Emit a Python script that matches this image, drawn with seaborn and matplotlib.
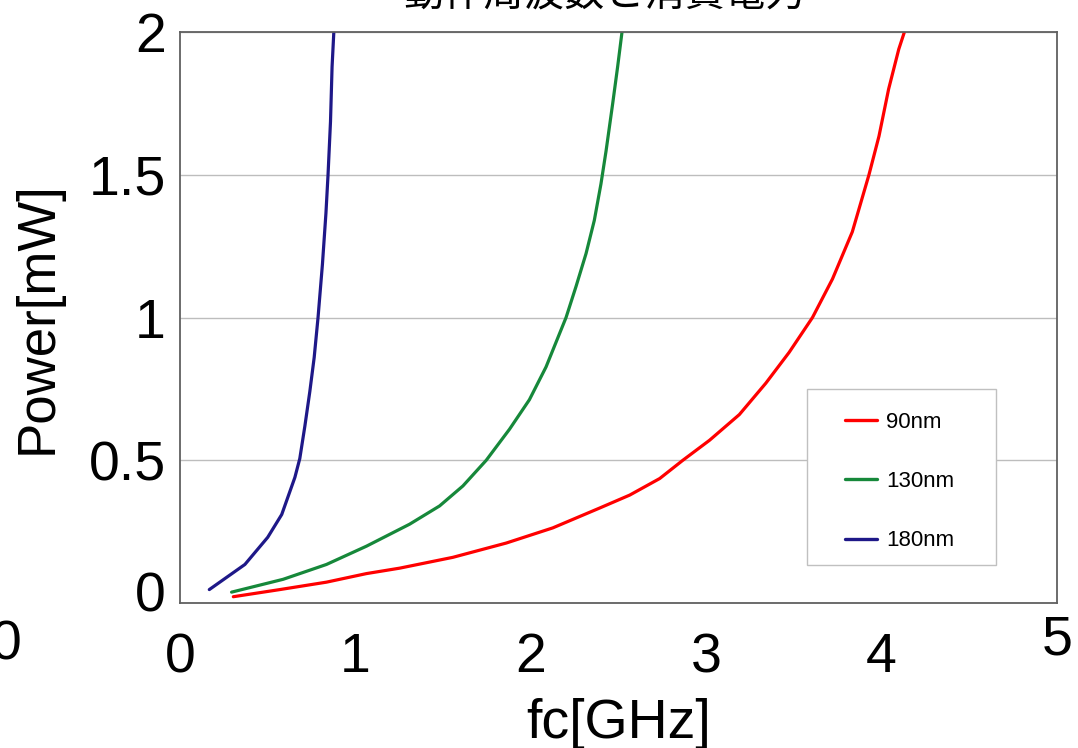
import matplotlib
matplotlib.use("Agg")
import matplotlib.pyplot as plt
import matplotlib.transforms as mtransforms
from matplotlib.patches import Rectangle
import seaborn as sns
import pandas as pd

# ---- data ----
title_text = "動作周波数と消費電力"
series_names = ["90nm", "130nm", "180nm"]
red_x = [0.304, 0.569, 0.835, 1.063, 1.252, 1.556, 1.86, 2.125, 2.394, 2.564, 2.735, 2.867,
         3.019, 3.189, 3.34, 3.473, 3.606, 3.72, 3.833, 3.928, 3.985, 4.04, 4.098, 4.13]
red_y = [0.022, 0.047, 0.073, 0.103, 0.122, 0.16, 0.21, 0.263, 0.333, 0.378, 0.436, 0.5,
         0.57, 0.66, 0.77, 0.878, 1.0, 1.135, 1.30, 1.5, 1.635, 1.80, 1.94, 2.0]
green_x = [0.294, 0.588, 0.835, 1.063, 1.309, 1.48, 1.613, 1.746, 1.879, 1.992, 2.087, 2.201,
           2.258, 2.315, 2.362, 2.40, 2.429, 2.467, 2.495, 2.52]
green_y = [0.038, 0.083, 0.135, 0.199, 0.276, 0.34, 0.41, 0.5, 0.609, 0.712, 0.827, 1.0,
           1.109, 1.224, 1.34, 1.468, 1.583, 1.75, 1.878, 2.0]
blue_x = [0.167, 0.37, 0.50, 0.58, 0.655, 0.683, 0.712, 0.74, 0.765, 0.787, 0.812, 0.832,
          0.844, 0.858, 0.867, 0.877]
blue_y = [0.047, 0.135, 0.23, 0.31, 0.44, 0.506, 0.62, 0.74, 0.86, 1.0, 1.186, 1.365,
          1.5, 1.686, 1.878, 2.0]
x_ticks = [0, 1, 2, 3, 4, 5]
y_ticks = [0, 0.5, 1, 1.5, 2]
y_tick_labels = ["0", "0.5", "1", "1.5", "2"]
x_label = "fc[GHz]"
y_label = "Power[mW]"
colors = ["#ff0000", "#16883a", "#1e1888"]

rows = []
for name, xs, ys in zip(series_names, [red_x, green_x, blue_x], [red_y, green_y, blue_y]):
    for a, b in zip(xs, ys):
        rows.append({"fc": a, "power": b, "tech": name})
df = pd.DataFrame(rows)

sns.set_style("white")
plt.rcParams["font.family"] = ["Liberation Sans", "Noto Sans CJK JP", "DejaVu Sans"]
plt.rcParams["text.color"] = "black"
plt.rcParams["axes.labelcolor"] = "black"
plt.rcParams["xtick.labelcolor"] = "black"
plt.rcParams["ytick.labelcolor"] = "black"

fig = plt.figure(figsize=(10.78, 7.48), dpi=100)
ax = fig.add_axes([180 / 1078, 1 - 603 / 748, 877 / 1078, 571 / 748])

sns.lineplot(data=df, x="fc", y="power", hue="tech", hue_order=series_names,
             palette=colors, sort=False, estimator=None,
             linewidth=2.3, ax=ax, legend=True)

ax.set_xlim(0, 5)
ax.set_ylim(0, 2)
ax.set_xticks(x_ticks)
ax.set_yticks(y_ticks)
ax.set_yticklabels(y_tick_labels)
ax.yaxis.grid(True, color="#bdbdbd", linewidth=1.0)
ax.xaxis.grid(False)
for sp in ax.spines.values():
    sp.set_color("#606060")
    sp.set_linewidth(1.3)
ax.tick_params(axis="x", direction="in", length=10, color="#b0b0b0", labelsize=40, pad=21,
               labelcolor="black")
ax.tick_params(axis="y", direction="in", length=12, color="#909090", labelsize=40, pad=10,
               labelcolor="black")

ax.set_xlabel(x_label, fontsize=40, labelpad=10, color="black")
ax.set_ylabel(y_label, fontsize=38, labelpad=19, color="black")

fig.canvas.draw()
xl = ax.get_xticklabels()
xl[-1].set_transform(xl[-1].get_transform() + mtransforms.ScaledTranslation(0, 18 / 100, fig.dpi_scale_trans))
yl = ax.get_yticklabels()
yl[0].set_transform(yl[0].get_transform() + mtransforms.ScaledTranslation(0, 12 / 100, fig.dpi_scale_trans))

# legend frame box
ax.add_patch(Rectangle(((807 - 180) / 877, (603 - 565) / 571), (996 - 807) / 877, (565 - 389) / 571,
                       transform=ax.transAxes, facecolor="white", edgecolor="#c0c0c0",
                       linewidth=1.0, zorder=4))
leg = ax.legend(title=None, loc="upper left", bbox_to_anchor=((845 - 180) / 877, (603 - 412) / 571),
                fontsize=16, frameon=False, labelspacing=1.72,
                handlelength=1.45, handletextpad=0.4, borderpad=0, borderaxespad=0)
leg.set_zorder(5)
for h in leg.get_lines():
    h.set_linewidth(2.4)

fig.text(0.561, 1 - 6 / 748, title_text, ha="center", va="baseline", fontsize=29,
         family=["Noto Sans CJK JP", "DejaVu Sans"])
fig.text(6 / 1078, 1 - 645 / 748, "0", ha="center", va="center", fontsize=40)

fig.savefig("out.png", dpi=100)
